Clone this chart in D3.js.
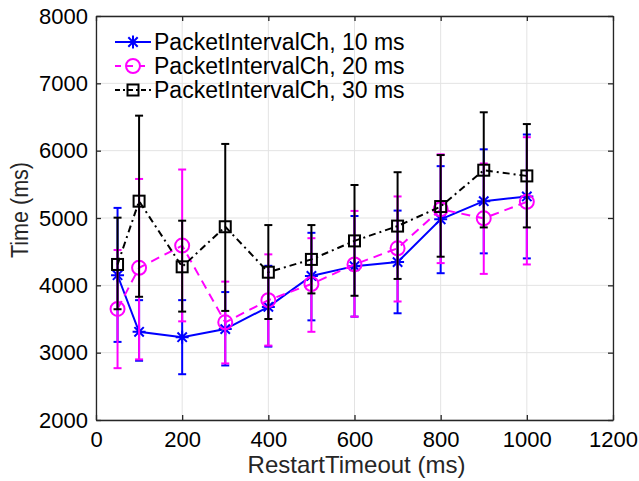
<!DOCTYPE html>
<html>
<head>
<meta charset="utf-8">
<script src="https://cdn.jsdelivr.net/npm/d3@7"></script>
<style>
  body { margin: 0; background: #fff; }
  svg { font-family: "Liberation Sans", Arial, sans-serif; }
</style>
</head>
<body>
<svg id="chart" width="639" height="481"></svg>
<script>
// RestartTimeout values (ms)
const timeouts = [50, 100, 200, 300, 400, 500, 600, 700, 800, 900, 1000];

// PacketIntervalCh, 10 ms
const mean10 = [4150, 3310, 3230, 3350, 3680, 4140, 4285, 4345, 4980, 5250, 5320];
const low10  = [3160, 2880, 2680, 2810, 3090, 3480, 3535, 3585, 4180, 4475, 4400];
const high10 = [5150, 3780, 3780, 3900, 4290, 4780, 5030, 5110, 5770, 6020, 6240];

// PacketIntervalCh, 20 ms
const mean20 = [3650, 4260, 4590, 3450, 3780, 4020, 4310, 4550, 5130, 4995, 5240];
const low20  = [2770, 2900, 3465, 2840, 3105, 3310, 3535, 3760, 4330, 4170, 4310];
const high20 = [4525, 5580, 5720, 4055, 4460, 4700, 5105, 5320, 5945, 5810, 6200];

// PacketIntervalCh, 30 ms
const mean30 = [4310, 5250, 4275, 4870, 4195, 4385, 4660, 4880, 5170, 5710, 5625];
const low30  = [3645, 3830, 3610, 3620, 3500, 3880, 3845, 4095, 4425, 4860, 4860];
const high30 = [5005, 6520, 4960, 6100, 4895, 4895, 5490, 5680, 5935, 6570, 6395];

const xTicks = [0, 200, 400, 600, 800, 1000, 1200];
const yTicks = [2000, 3000, 4000, 5000, 6000, 7000, 8000];

const series = [
  { name: "PacketIntervalCh, 10 ms", mean: mean10, low: low10, high: high10, color: "#0000ff", dash: null, legendDash: null, marker: "star" },
  { name: "PacketIntervalCh, 20 ms", mean: mean20, low: low20, high: high20, color: "#ff00ff", dash: "9,6", legendDash: "6,6", marker: "circle" },
  { name: "PacketIntervalCh, 30 ms", mean: mean30, low: low30, high: high30, color: "#000000", dash: "7,4,2,4", legendDash: "5,3,2,3", marker: "square" }
];

const width = 639, height = 481;
const margin = { top: 16, right: 26, bottom: 61, left: 96 };
const iw = width - margin.left - margin.right;
const ih = height - margin.top - margin.bottom;

const svg = d3.select("#chart");
const g = svg.append("g").attr("transform", "translate(" + margin.left + "," + margin.top + ")");

const x = d3.scaleLinear().domain([0, 1200]).range([0, iw]);
const y = d3.scaleLinear().domain([2000, 8000]).range([ih, 0]);

// grid
g.append("g").selectAll("line").data(xTicks).enter().append("line")
  .attr("x1", d => x(d)).attr("x2", d => x(d)).attr("y1", 0).attr("y2", ih)
  .attr("stroke", "#e3e3e3").attr("stroke-width", 1);
g.append("g").selectAll("line").data(yTicks).enter().append("line")
  .attr("y1", d => y(d)).attr("y2", d => y(d)).attr("x1", 0).attr("x2", iw)
  .attr("stroke", "#e3e3e3").attr("stroke-width", 1);

// axes (ticks inside, box on all sides)
const axisColor = "#262626";
const fmt = d3.format("d");
function styleAxis(sel) {
  sel.select(".domain").attr("stroke", axisColor).attr("stroke-width", 1.3);
  sel.selectAll(".tick line").attr("stroke", axisColor).attr("stroke-width", 1.3);
  sel.selectAll("text").attr("fill", "#000").style("font-size", "22px");
}
g.append("g").attr("transform", "translate(0," + ih + ")")
  .call(d3.axisBottom(x).tickValues(xTicks).tickFormat(fmt).tickSizeInner(-5).tickSizeOuter(0).tickPadding(11))
  .call(styleAxis);
g.append("g")
  .call(d3.axisLeft(y).tickValues(yTicks).tickFormat(fmt).tickSizeInner(-5).tickSizeOuter(0).tickPadding(8))
  .call(styleAxis);
g.append("g")
  .call(d3.axisTop(x).tickValues(xTicks).tickSizeInner(-5).tickSizeOuter(0).tickFormat(""))
  .call(styleAxis);
g.append("g").attr("transform", "translate(" + iw + ",0)")
  .call(d3.axisRight(y).tickValues(yTicks).tickSizeInner(-5).tickSizeOuter(0).tickFormat(""))
  .call(styleAxis);

// axis labels
svg.append("text")
  .attr("x", margin.left + iw / 2 + 2).attr("y", 473)
  .attr("text-anchor", "middle").style("font-size", "24px").attr("fill", "#262626")
  .text("RestartTimeout (ms)");
svg.append("text")
  .attr("transform", "translate(28,210) rotate(-90)")
  .attr("text-anchor", "middle").style("font-size", "23px").attr("fill", "#262626")
  .attr("textLength", 96).attr("lengthAdjust", "spacingAndGlyphs")
  .text("Time (ms)");

function drawMarker(sel, type, color) {
  if (type === "star") {
    const s = 6.5;
    sel.append("path")
      .attr("d", "M" + (-s) + ",0H" + s + "M0," + (-s) + "V" + s +
        "M" + (-s * 0.72) + "," + (-s * 0.72) + "L" + (s * 0.72) + "," + (s * 0.72) +
        "M" + (-s * 0.72) + "," + (s * 0.72) + "L" + (s * 0.72) + "," + (-s * 0.72))
      .attr("stroke", color).attr("stroke-width", 2).attr("fill", "none");
  } else if (type === "circle") {
    sel.append("circle").attr("r", 7)
      .attr("stroke", color).attr("stroke-width", 2).attr("fill", "none");
  } else {
    sel.append("rect").attr("x", -5.5).attr("y", -5.5).attr("width", 11).attr("height", 11)
      .attr("stroke", color).attr("stroke-width", 2).attr("fill", "none");
  }
}

const line = d3.line().x(d => x(d[0])).y(d => y(d[1]));

series.forEach(s => {
  const sg = g.append("g");
  const pts = timeouts.map((t, i) => [t, s.mean[i], s.low[i], s.high[i]]);

  // error bars
  const eb = sg.append("g").selectAll("g").data(pts).enter().append("g");
  eb.append("line")
    .attr("x1", d => x(d[0])).attr("x2", d => x(d[0]))
    .attr("y1", d => y(d[2])).attr("y2", d => y(d[3]))
    .attr("stroke", s.color).attr("stroke-width", 2);
  [2, 3].forEach(k => {
    eb.append("line")
      .attr("x1", d => x(d[0]) - 4).attr("x2", d => x(d[0]) + 4)
      .attr("y1", d => y(d[k])).attr("y2", d => y(d[k]))
      .attr("stroke", s.color).attr("stroke-width", 2);
  });

  sg.append("path").datum(pts)
    .attr("d", line).attr("fill", "none")
    .attr("stroke", s.color).attr("stroke-width", 2)
    .attr("stroke-dasharray", s.dash);

  sg.append("g").selectAll("g").data(pts).enter().append("g")
    .attr("transform", d => "translate(" + x(d[0]) + "," + y(d[1]) + ")")
    .each(function () { drawMarker(d3.select(this), s.marker, s.color); });
});

// legend (no box)
const lg = g.append("g").attr("transform", "translate(19,26)");
series.forEach((s, i) => {
  const row = lg.append("g").attr("transform", "translate(0," + (i * 24) + ")");
  row.append("line").attr("x1", 0).attr("x2", 36).attr("y1", 0).attr("y2", 0)
    .attr("stroke", s.color).attr("stroke-width", 2).attr("stroke-dasharray", s.legendDash);
  const m = row.append("g").attr("transform", "translate(18,0)");
  drawMarker(m, s.marker, s.color);
  row.append("text").attr("x", 39).attr("y", 8)
    .style("font-size", "23px").attr("fill", "#000").text(s.name);
});
</script>
</body>
</html>
